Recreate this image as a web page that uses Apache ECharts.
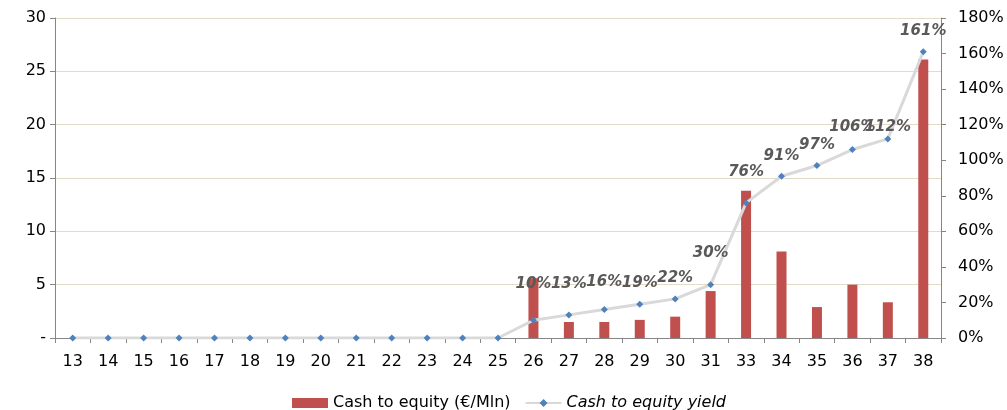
<!DOCTYPE html>
<html>
<head>
<meta charset="utf-8">
<script src="https://cdn.jsdelivr.net/npm/echarts@6/dist/echarts.min.js"></script>
<style>
html,body{margin:0;padding:0;background:#fff;}
#chart{width:1007px;height:410px;}
</style>
</head>
<body>
<div id="chart"></div>
<script>
const categories = ['13','14','15','16','17','18','19','20','21','22','23','24','25','26','27','28','29','30','31','33','34','35','36','37','38'];
const cashToEquity = [null,null,null,null,null,null,null,null,null,null,null,null,null,5.6,1.5,1.5,1.7,2.0,4.4,13.8,8.1,2.9,5.0,3.35,26.1];
const equityYield = [0,0,0,0,0,0,0,0,0,0,0,0,0,10,13,16,19,22,30,76,91,97,106,112,161];
const leftTicks = [0,5,10,15,20,25,30];
const rightTicks = [0,20,40,60,80,100,120,140,160,180];
// label lift (px) above each point, presentation only
const labelLift = [0,0,0,0,0,0,0,0,0,0,0,0,0,36,31,27,21,21,32,31,20,20,22,12,21];

const FONT = 'DejaVu Sans';
const chart = echarts.init(document.getElementById('chart'));
const axisColor = '#868686';

const lineData = equityYield.map((v, i) => {
  const show = i >= 13;
  return {
    value: v,
    label: {
      show: show,
      position: 'inside',
      offset: [0, -labelLift[i]],
      formatter: '{c}%'
    }
  };
});

chart.setOption({
  animation: false,
  textStyle: { fontFamily: FONT },
  grid: { left: 55, right: 66, top: 18, bottom: 72 },
  legend: {
    left: 287,
    top: 390,
    itemGap: 14,
    itemWidth: 36,
    itemHeight: 10,
    textStyle: { fontFamily: FONT, fontSize: 16, color: '#000' },
    data: [
      { name: 'Cash to equity (€/Mln)', icon: 'rect' },
      { name: 'Cash to equity yield', textStyle: { fontStyle: 'italic' } }
    ]
  },
  xAxis: {
    type: 'category',
    data: categories,
    boundaryGap: true,
    axisLine: { lineStyle: { color: axisColor, width: 1 } },
    axisTick: { show: true, inside: false, length: 5, lineStyle: { color: axisColor } },
    axisLabel: { fontSize: 16, color: '#000', margin: 16, fontFamily: FONT }
  },
  yAxis: [
    {
      type: 'value',
      min: leftTicks[0],
      max: leftTicks[leftTicks.length - 1],
      interval: leftTicks[1] - leftTicks[0],
      axisLine: { show: true, lineStyle: { color: axisColor } },
      axisTick: { show: true, length: 5, lineStyle: { color: axisColor } },
      axisLabel: {
        fontSize: 16, color: '#000', margin: 9, fontFamily: FONT,
        formatter: v => v === 0 ? '-' : String(v)
      },
      splitLine: { show: true, lineStyle: { color: '#e2dcc6', width: 1 } }
    },
    {
      type: 'value',
      min: rightTicks[0],
      max: rightTicks[rightTicks.length - 1],
      interval: rightTicks[1] - rightTicks[0],
      axisLine: { show: true, lineStyle: { color: axisColor } },
      axisTick: { show: true, length: 5, lineStyle: { color: axisColor } },
      axisLabel: { fontSize: 16, color: '#000', margin: 17, fontFamily: FONT, formatter: '{value}%' },
      splitLine: { show: false }
    }
  ],
  series: [
    {
      name: 'Cash to equity (€/Mln)',
      type: 'bar',
      yAxisIndex: 0,
      data: cashToEquity,
      barWidth: 10,
      itemStyle: { color: '#c0504d' }
    },
    {
      name: 'Cash to equity yield',
      type: 'line',
      yAxisIndex: 1,
      data: lineData,
      symbol: 'diamond',
      symbolSize: 7,
      lineStyle: { color: '#d9d9d9', width: 3 },
      itemStyle: { color: '#4f81bd' },
      label: {
        fontFamily: FONT,
        fontSize: 15,
        fontWeight: 'bold',
        fontStyle: 'italic',
        color: '#595959'
      },
      z: 3
    }
  ]
});
</script>
</body>
</html>
